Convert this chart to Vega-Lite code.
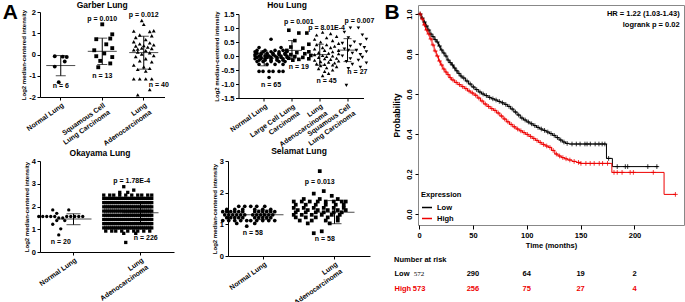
{
"$schema": "https://vega.github.io/schema/vega-lite/v6.json",
"background": "white",
"padding": {"left": 2, "top": 1, "right": 0, "bottom": 0},
"spacing": 9,
"resolve": {"scale": {"color": "independent", "shape": "independent"}, "legend": {"color": "independent", "shape": "independent"}},
"config": {
 "font": "Liberation Sans",
 "view": {"stroke": null},
 "axis": {"grid": false, "labelFont": "Liberation Sans", "labelFontSize": 7.5, "labelFontWeight": "bold", "labelColor": "#000", "titleFont": "Liberation Sans", "titleFontSize": 6, "titleFontWeight": "bold", "titleColor": "#000", "domainColor": "#000", "tickColor": "#000", "tickSize": 3, "labelPadding": 1.5, "titlePadding": 2},
 "title": {"font": "Liberation Sans", "fontSize": 8.5, "fontWeight": "bold", "color": "#000", "offset": 2},
 "text": {"font": "Liberation Sans", "fontSize": 7, "fontWeight": "bold", "color": "#000"}
},
"datasets": {
 "g": [
  {"c":"N","v":-0.08,"k":-3},{"c":"N","v":-0.1,"k":1},{"c":"N","v":-0.12,"k":3},{"c":"N","v":-0.33,"k":2},{"c":"N","v":-0.57,"k":-3},{"c":"N","v":-1.3,"k":-1},
  {"c":"S","v":1.42,"k":0},{"c":"S","v":0.95,"k":5},{"c":"S","v":0.75,"k":4},{"c":"S","v":0.72,"k":-3},{"c":"S","v":0.48,"k":2},{"c":"S","v":0.3,"k":5},{"c":"S","v":0.2,"k":-4},{"c":"S","v":0.05,"k":1},{"c":"S","v":-0.08,"k":-3},{"c":"S","v":-0.12,"k":5},{"c":"S","v":-0.3,"k":-1},{"c":"S","v":-0.42,"k":4},{"c":"S","v":-0.6,"k":-2},
  {"c":"A","v":1.6,"k":-1},{"c":"A","v":1.42,"k":0},{"c":"A","v":1.12,"k":5},{"c":"A","v":1.1,"k":-5},{"c":"A","v":1.08,"k":3},{"c":"A","v":0.92,"k":-2},{"c":"A","v":0.88,"k":4},{"c":"A","v":0.8,"k":-4},{"c":"A","v":0.7,"k":1},{"c":"A","v":0.6,"k":-5},
  {"c":"A","v":0.55,"k":3},{"c":"A","v":0.5,"k":-2},{"c":"A","v":0.45,"k":5},{"c":"A","v":0.42,"k":0},{"c":"A","v":0.4,"k":-4},{"c":"A","v":0.35,"k":2},{"c":"A","v":0.3,"k":-1},{"c":"A","v":0.28,"k":4},{"c":"A","v":0.25,"k":-3},{"c":"A","v":0.22,"k":-5},
  {"c":"A","v":0.18,"k":1},{"c":"A","v":0.12,"k":-3},{"c":"A","v":0.08,"k":3},{"c":"A","v":0.02,"k":-1},{"c":"A","v":-0.05,"k":5},{"c":"A","v":-0.1,"k":-4},{"c":"A","v":-0.2,"k":1},{"c":"A","v":-0.3,"k":-2},{"c":"A","v":-0.35,"k":4},{"c":"A","v":-0.5,"k":-5},
  {"c":"A","v":-0.58,"k":0},{"c":"A","v":-0.65,"k":3},{"c":"A","v":-0.7,"k":-3},{"c":"A","v":-0.78,"k":1},{"c":"A","v":-1.15,"k":-5},{"c":"A","v":-1.15,"k":-2},{"c":"A","v":-1.15,"k":1},{"c":"A","v":-1.15,"k":4},{"c":"A","v":-1.65,"k":3},{"c":"A","v":-1.9,"k":-3}
 ],
 "gs": [{"c":"N","mean":-0.52,"lo":-1.0,"hi":-0.05},{"c":"S","mean":0.15,"lo":-0.47,"hi":0.77},{"c":"A","mean":0.09,"lo":-0.69,"hi":0.86}],
 "gt": [{"c":"S","y":1.68,"k":0,"t":"p = 0.010"},{"c":"A","y":1.85,"k":0,"t":"p = 0.012"},{"c":"N","y":-1.5,"k":0,"t":"n = 6"},{"c":"S","y":-1.02,"k":0,"t":"n = 13"},{"c":"A","y":-1.45,"k":7.5,"t":"n = 40"}],
 "h": [
  {"c":"N","v":0.6,"k":0},{"c":"N","v":0.3,"k":-6},{"c":"N","v":0.3,"k":5},
  {"c":"N","v":0.2,"k":-7},{"c":"N","v":0.2,"k":-3},{"c":"N","v":0.2,"k":2},{"c":"N","v":0.2,"k":6},
  {"c":"N","v":0.15,"k":-8},{"c":"N","v":0.15,"k":-4},{"c":"N","v":0.15,"k":0},{"c":"N","v":0.15,"k":4},{"c":"N","v":0.15,"k":8},
  {"c":"N","v":0.1,"k":-7},{"c":"N","v":0.1,"k":-5},{"c":"N","v":0.1,"k":-2},{"c":"N","v":0.1,"k":1},{"c":"N","v":0.1,"k":4},{"c":"N","v":0.1,"k":7},
  {"c":"N","v":0.05,"k":-8},{"c":"N","v":0.05,"k":-5},{"c":"N","v":0.05,"k":-2},{"c":"N","v":0.05,"k":1},{"c":"N","v":0.05,"k":4},{"c":"N","v":0.05,"k":7},
  {"c":"N","v":0.0,"k":-8},{"c":"N","v":0.0,"k":-6},{"c":"N","v":0.0,"k":-3},{"c":"N","v":0.0,"k":-1},{"c":"N","v":0.0,"k":2},{"c":"N","v":0.0,"k":5},{"c":"N","v":0.0,"k":8},
  {"c":"N","v":-0.05,"k":-7},{"c":"N","v":-0.05,"k":-5},{"c":"N","v":-0.05,"k":-2},{"c":"N","v":-0.05,"k":0},{"c":"N","v":-0.05,"k":3},{"c":"N","v":-0.05,"k":5},{"c":"N","v":-0.05,"k":8},
  {"c":"N","v":-0.1,"k":-8},{"c":"N","v":-0.1,"k":-5},{"c":"N","v":-0.1,"k":-3},{"c":"N","v":-0.1,"k":0},{"c":"N","v":-0.1,"k":3},{"c":"N","v":-0.1,"k":6},
  {"c":"N","v":-0.15,"k":-6},{"c":"N","v":-0.15,"k":-3},{"c":"N","v":-0.15,"k":0},{"c":"N","v":-0.15,"k":3},{"c":"N","v":-0.15,"k":6},
  {"c":"N","v":-0.2,"k":-7},{"c":"N","v":-0.2,"k":-4},{"c":"N","v":-0.2,"k":0},{"c":"N","v":-0.2,"k":4},{"c":"N","v":-0.2,"k":7},
  {"c":"N","v":-0.3,"k":-6},{"c":"N","v":-0.3,"k":-2},{"c":"N","v":-0.3,"k":2},{"c":"N","v":-0.3,"k":6},
  {"c":"N","v":-0.55,"k":-6},{"c":"N","v":-0.55,"k":-4},{"c":"N","v":-0.55,"k":-1},{"c":"N","v":-0.55,"k":1},{"c":"N","v":-0.55,"k":4},{"c":"N","v":-0.55,"k":6},
  {"c":"N","v":-0.77,"k":-1},
  {"c":"L","v":0.92,"k":-5},{"c":"L","v":0.82,"k":0},{"c":"L","v":0.82,"k":4},{"c":"L","v":0.55,"k":-2},{"c":"L","v":0.42,"k":5},{"c":"L","v":0.32,"k":-4},{"c":"L","v":0.28,"k":2},{"c":"L","v":0.2,"k":-6},{"c":"L","v":0.15,"k":5},{"c":"L","v":0.12,"k":-1},
  {"c":"L","v":0.08,"k":3},{"c":"L","v":0.05,"k":-4},{"c":"L","v":0.02,"k":6},{"c":"L","v":-0.02,"k":-2},{"c":"L","v":-0.05,"k":2},{"c":"L","v":-0.08,"k":-5},{"c":"L","v":-0.1,"k":5},{"c":"L","v":-0.12,"k":0},{"c":"L","v":-0.15,"k":-3},
  {"c":"A","v":0.85,"k":-2},{"c":"A","v":0.8,"k":2},{"c":"A","v":0.75,"k":-5},{"c":"A","v":0.7,"k":5},{"c":"A","v":0.65,"k":0},{"c":"A","v":0.6,"k":-6},{"c":"A","v":0.55,"k":3},{"c":"A","v":0.5,"k":-3},{"c":"A","v":0.45,"k":6},{"c":"A","v":0.4,"k":0},
  {"c":"A","v":0.4,"k":-5},{"c":"A","v":0.35,"k":4},{"c":"A","v":0.3,"k":-2},{"c":"A","v":0.3,"k":2},{"c":"A","v":0.25,"k":-6},{"c":"A","v":0.2,"k":6},{"c":"A","v":0.2,"k":-1},{"c":"A","v":0.15,"k":3},{"c":"A","v":0.12,"k":-4},{"c":"A","v":0.1,"k":1},
  {"c":"A","v":0.08,"k":6},{"c":"A","v":0.05,"k":-6},{"c":"A","v":0.02,"k":-2},{"c":"A","v":0.0,"k":3},{"c":"A","v":-0.02,"k":0},{"c":"A","v":-0.05,"k":-4},{"c":"A","v":-0.08,"k":5},{"c":"A","v":-0.1,"k":-1},{"c":"A","v":-0.12,"k":2},{"c":"A","v":-0.15,"k":-6},
  {"c":"A","v":-0.18,"k":6},{"c":"A","v":-0.2,"k":-3},{"c":"A","v":-0.22,"k":1},{"c":"A","v":-0.25,"k":4},{"c":"A","v":-0.28,"k":-5},{"c":"A","v":-0.3,"k":-1},{"c":"A","v":-0.32,"k":3},{"c":"A","v":-0.35,"k":-3},{"c":"A","v":-0.38,"k":5},{"c":"A","v":-0.42,"k":0},
  {"c":"A","v":-0.45,"k":-4},{"c":"A","v":-0.5,"k":3},{"c":"A","v":-0.55,"k":-1},{"c":"A","v":-0.62,"k":1},{"c":"A","v":-0.7,"k":-2},
  {"c":"S","v":1.0,"k":-2},{"c":"S","v":1.0,"k":2},{"c":"S","v":0.85,"k":-5},{"c":"S","v":0.75,"k":4},{"c":"S","v":0.65,"k":-3},{"c":"S","v":0.6,"k":6},{"c":"S","v":0.5,"k":0},{"c":"S","v":0.45,"k":-6},{"c":"S","v":0.4,"k":3},{"c":"S","v":0.35,"k":-2},
  {"c":"S","v":0.3,"k":5},{"c":"S","v":0.25,"k":-5},{"c":"S","v":0.2,"k":1},{"c":"S","v":0.2,"k":-3},{"c":"S","v":0.15,"k":6},{"c":"S","v":0.1,"k":-1},{"c":"S","v":0.05,"k":3},{"c":"S","v":0.0,"k":-6},{"c":"S","v":-0.05,"k":4},{"c":"S","v":-0.1,"k":-2},
  {"c":"S","v":-0.15,"k":2},{"c":"S","v":-0.2,"k":-4},{"c":"S","v":-0.25,"k":6},{"c":"S","v":-0.3,"k":-1},{"c":"S","v":-0.4,"k":3},{"c":"S","v":-0.45,"k":-3},{"c":"S","v":-1.05,"k":-4}
 ],
 "hs": [{"c":"N","mean":-0.08,"lo":-0.35,"hi":0.18},{"c":"L","mean":0.2,"lo":-0.1,"hi":0.55},{"c":"A","mean":0.05,"lo":-0.33,"hi":0.42},{"c":"S","mean":0.21,"lo":-0.2,"hi":0.62}],
 "ht": [{"c":"L","y":1.2,"k":0,"t":"p = 0.001"},{"c":"A","y":1.0,"k":0,"t":"p = 8.01E-4"},{"c":"S","y":1.25,"k":2.5,"t":"p = 0.007"},{"c":"N","y":-1.03,"k":0,"t":"n = 65"},{"c":"L","y":-0.4,"k":0,"t":"n = 19"},{"c":"A","y":-0.9,"k":0,"t":"n = 45"},{"c":"S","y":-0.56,"k":1.5,"t":"n = 27"}],
 "o": [
  {"c":"N","v":1.85,"k":-4},{"c":"N","v":1.85,"k":4},{"c":"N","v":1.7,"k":-2},
  {"c":"N","v":1.56,"k":-11},{"c":"N","v":1.56,"k":-9},{"c":"N","v":1.56,"k":-7},{"c":"N","v":1.56,"k":-5},{"c":"N","v":1.56,"k":-3},{"c":"N","v":1.56,"k":3},{"c":"N","v":1.56,"k":5},{"c":"N","v":1.56,"k":7},{"c":"N","v":1.56,"k":9},{"c":"N","v":1.56,"k":11},
  {"c":"N","v":1.5,"k":-1},{"c":"N","v":1.5,"k":1},{"c":"N","v":1.38,"k":-2},{"c":"N","v":1.38,"k":2},{"c":"N","v":1.22,"k":-4},{"c":"N","v":1.02,"k":0},{"c":"N","v":0.75,"k":-1},
  {"c":"A","v":2.87,"k":-2},{"c":"A","v":2.72,"k":3},{"c":"A","v":2.62,"k":-4},{"c":"A","v":2.62,"k":0},
  {"c":"A","v":2.5,"k":-12},{"c":"A","v":2.5,"k":-9},{"c":"A","v":2.5,"k":-7},{"c":"A","v":2.5,"k":-4},{"c":"A","v":2.5,"k":-1},{"c":"A","v":2.5,"k":2},{"c":"A","v":2.5,"k":5},{"c":"A","v":2.5,"k":7},{"c":"A","v":2.5,"k":10},{"c":"A","v":2.5,"k":12},
  {"c":"A","v":2.355,"k":-12},{"c":"A","v":2.355,"k":-11},{"c":"A","v":2.355,"k":-10},{"c":"A","v":2.355,"k":-9},{"c":"A","v":2.355,"k":-8},{"c":"A","v":2.355,"k":-7},{"c":"A","v":2.355,"k":-6},{"c":"A","v":2.355,"k":-5},{"c":"A","v":2.355,"k":-4},{"c":"A","v":2.355,"k":-3},{"c":"A","v":2.355,"k":-2},{"c":"A","v":2.355,"k":-1},{"c":"A","v":2.355,"k":0},{"c":"A","v":2.355,"k":1},{"c":"A","v":2.355,"k":2},{"c":"A","v":2.355,"k":3},{"c":"A","v":2.355,"k":4},{"c":"A","v":2.355,"k":5},{"c":"A","v":2.355,"k":6},{"c":"A","v":2.355,"k":7},{"c":"A","v":2.355,"k":8},{"c":"A","v":2.355,"k":9},{"c":"A","v":2.355,"k":10},{"c":"A","v":2.355,"k":11},{"c":"A","v":2.355,"k":12},
  {"c":"A","v":2.17,"k":-12},{"c":"A","v":2.17,"k":-11},{"c":"A","v":2.17,"k":-10},{"c":"A","v":2.17,"k":-9},{"c":"A","v":2.17,"k":-8},{"c":"A","v":2.17,"k":-7},{"c":"A","v":2.17,"k":-6},{"c":"A","v":2.17,"k":-5},{"c":"A","v":2.17,"k":-4},{"c":"A","v":2.17,"k":-3},{"c":"A","v":2.17,"k":-2},{"c":"A","v":2.17,"k":-1},{"c":"A","v":2.17,"k":0},{"c":"A","v":2.17,"k":1},{"c":"A","v":2.17,"k":2},{"c":"A","v":2.17,"k":3},{"c":"A","v":2.17,"k":4},{"c":"A","v":2.17,"k":5},{"c":"A","v":2.17,"k":6},{"c":"A","v":2.17,"k":7},{"c":"A","v":2.17,"k":8},{"c":"A","v":2.17,"k":9},{"c":"A","v":2.17,"k":10},{"c":"A","v":2.17,"k":11},{"c":"A","v":2.17,"k":12},
  {"c":"A","v":1.985,"k":-12},{"c":"A","v":1.985,"k":-11},{"c":"A","v":1.985,"k":-10},{"c":"A","v":1.985,"k":-9},{"c":"A","v":1.985,"k":-8},{"c":"A","v":1.985,"k":-7},{"c":"A","v":1.985,"k":-6},{"c":"A","v":1.985,"k":-5},{"c":"A","v":1.985,"k":-4},{"c":"A","v":1.985,"k":-3},{"c":"A","v":1.985,"k":-2},{"c":"A","v":1.985,"k":-1},{"c":"A","v":1.985,"k":0},{"c":"A","v":1.985,"k":1},{"c":"A","v":1.985,"k":2},{"c":"A","v":1.985,"k":3},{"c":"A","v":1.985,"k":4},{"c":"A","v":1.985,"k":5},{"c":"A","v":1.985,"k":6},{"c":"A","v":1.985,"k":7},{"c":"A","v":1.985,"k":8},{"c":"A","v":1.985,"k":9},{"c":"A","v":1.985,"k":10},{"c":"A","v":1.985,"k":11},{"c":"A","v":1.985,"k":12},
  {"c":"A","v":1.8,"k":-12},{"c":"A","v":1.8,"k":-11},{"c":"A","v":1.8,"k":-10},{"c":"A","v":1.8,"k":-9},{"c":"A","v":1.8,"k":-8},{"c":"A","v":1.8,"k":-7},{"c":"A","v":1.8,"k":-6},{"c":"A","v":1.8,"k":-5},{"c":"A","v":1.8,"k":-4},{"c":"A","v":1.8,"k":-3},{"c":"A","v":1.8,"k":-2},{"c":"A","v":1.8,"k":-1},{"c":"A","v":1.8,"k":0},{"c":"A","v":1.8,"k":1},{"c":"A","v":1.8,"k":2},{"c":"A","v":1.8,"k":3},{"c":"A","v":1.8,"k":4},{"c":"A","v":1.8,"k":5},{"c":"A","v":1.8,"k":6},{"c":"A","v":1.8,"k":7},{"c":"A","v":1.8,"k":8},{"c":"A","v":1.8,"k":9},{"c":"A","v":1.8,"k":10},{"c":"A","v":1.8,"k":11},{"c":"A","v":1.8,"k":12},
  {"c":"A","v":1.615,"k":-12},{"c":"A","v":1.615,"k":-11},{"c":"A","v":1.615,"k":-10},{"c":"A","v":1.615,"k":-9},{"c":"A","v":1.615,"k":-8},{"c":"A","v":1.615,"k":-7},{"c":"A","v":1.615,"k":-6},{"c":"A","v":1.615,"k":-5},{"c":"A","v":1.615,"k":-4},{"c":"A","v":1.615,"k":-3},{"c":"A","v":1.615,"k":-2},{"c":"A","v":1.615,"k":-1},{"c":"A","v":1.615,"k":0},{"c":"A","v":1.615,"k":1},{"c":"A","v":1.615,"k":2},{"c":"A","v":1.615,"k":3},{"c":"A","v":1.615,"k":4},{"c":"A","v":1.615,"k":5},{"c":"A","v":1.615,"k":6},{"c":"A","v":1.615,"k":7},{"c":"A","v":1.615,"k":8},{"c":"A","v":1.615,"k":9},{"c":"A","v":1.615,"k":10},{"c":"A","v":1.615,"k":11},{"c":"A","v":1.615,"k":12},
  {"c":"A","v":1.43,"k":-12},{"c":"A","v":1.43,"k":-11},{"c":"A","v":1.43,"k":-10},{"c":"A","v":1.43,"k":-9},{"c":"A","v":1.43,"k":-8},{"c":"A","v":1.43,"k":-7},{"c":"A","v":1.43,"k":-6},{"c":"A","v":1.43,"k":-5},{"c":"A","v":1.43,"k":-4},{"c":"A","v":1.43,"k":-3},{"c":"A","v":1.43,"k":-2},{"c":"A","v":1.43,"k":-1},{"c":"A","v":1.43,"k":0},{"c":"A","v":1.43,"k":1},{"c":"A","v":1.43,"k":2},{"c":"A","v":1.43,"k":3},{"c":"A","v":1.43,"k":4},{"c":"A","v":1.43,"k":5},{"c":"A","v":1.43,"k":6},{"c":"A","v":1.43,"k":7},{"c":"A","v":1.43,"k":8},{"c":"A","v":1.43,"k":9},{"c":"A","v":1.43,"k":10},{"c":"A","v":1.43,"k":11},{"c":"A","v":1.43,"k":12},
  {"c":"A","v":1.245,"k":-12},{"c":"A","v":1.245,"k":-11},{"c":"A","v":1.245,"k":-10},{"c":"A","v":1.245,"k":-9},{"c":"A","v":1.245,"k":-8},{"c":"A","v":1.245,"k":-7},{"c":"A","v":1.245,"k":-6},{"c":"A","v":1.245,"k":-5},{"c":"A","v":1.245,"k":-4},{"c":"A","v":1.245,"k":-3},{"c":"A","v":1.245,"k":-2},{"c":"A","v":1.245,"k":-1},{"c":"A","v":1.245,"k":0},{"c":"A","v":1.245,"k":1},{"c":"A","v":1.245,"k":2},{"c":"A","v":1.245,"k":3},{"c":"A","v":1.245,"k":4},{"c":"A","v":1.245,"k":5},{"c":"A","v":1.245,"k":6},{"c":"A","v":1.245,"k":7},{"c":"A","v":1.245,"k":8},{"c":"A","v":1.245,"k":9},{"c":"A","v":1.245,"k":10},{"c":"A","v":1.245,"k":11},{"c":"A","v":1.245,"k":12},
  {"c":"A","v":1.06,"k":-12},{"c":"A","v":1.06,"k":-11},{"c":"A","v":1.06,"k":-10},{"c":"A","v":1.06,"k":-9},{"c":"A","v":1.06,"k":-8},{"c":"A","v":1.06,"k":-7},{"c":"A","v":1.06,"k":-6},{"c":"A","v":1.06,"k":-5},{"c":"A","v":1.06,"k":-4},{"c":"A","v":1.06,"k":-3},{"c":"A","v":1.06,"k":-2},{"c":"A","v":1.06,"k":-1},{"c":"A","v":1.06,"k":0},{"c":"A","v":1.06,"k":1},{"c":"A","v":1.06,"k":2},{"c":"A","v":1.06,"k":3},{"c":"A","v":1.06,"k":4},{"c":"A","v":1.06,"k":5},{"c":"A","v":1.06,"k":6},{"c":"A","v":1.06,"k":7},{"c":"A","v":1.06,"k":8},{"c":"A","v":1.06,"k":9},{"c":"A","v":1.06,"k":10},{"c":"A","v":1.06,"k":11},{"c":"A","v":1.06,"k":12},
  {"c":"A","v":0.92,"k":-11},{"c":"A","v":0.92,"k":-8},{"c":"A","v":0.92,"k":-6},{"c":"A","v":0.92,"k":-3},{"c":"A","v":0.92,"k":0},{"c":"A","v":0.92,"k":3},{"c":"A","v":0.92,"k":5},{"c":"A","v":0.92,"k":8},{"c":"A","v":0.92,"k":11},
  {"c":"A","v":0.82,"k":-2},{"c":"A","v":0.82,"k":4},{"c":"A","v":0.42,"k":-1}
 ],
 "os": [{"c":"N","mean":1.45,"lo":1.2,"hi":1.68},{"c":"A","mean":1.72,"lo":1.3,"hi":2.15}],
 "ot": [{"c":"A","y":3.12,"k":2,"t":"p = 1.78E-4"},{"c":"N","y":0.44,"k":0,"t":"n = 20"},{"c":"A","y":0.63,"k":9,"t":"n = 226"}],
 "s": [
  {"c":"N","v":1.57,"k":-5},{"c":"N","v":1.57,"k":-2},{"c":"N","v":1.57,"k":1},{"c":"N","v":1.57,"k":4},{"c":"N","v":1.57,"k":8},
  {"c":"N","v":1.47,"k":-11},{"c":"N","v":1.47,"k":-7},{"c":"N","v":1.47,"k":-3},{"c":"N","v":1.47,"k":3},{"c":"N","v":1.47,"k":7},{"c":"N","v":1.47,"k":11},
  {"c":"N","v":1.4,"k":-13},{"c":"N","v":1.4,"k":-11},{"c":"N","v":1.4,"k":-9},{"c":"N","v":1.4,"k":-7},{"c":"N","v":1.4,"k":-5},{"c":"N","v":1.4,"k":-3},{"c":"N","v":1.4,"k":3},{"c":"N","v":1.4,"k":5},{"c":"N","v":1.4,"k":7},{"c":"N","v":1.4,"k":9},{"c":"N","v":1.4,"k":11},{"c":"N","v":1.4,"k":13},
  {"c":"N","v":1.3,"k":-12},{"c":"N","v":1.3,"k":-10},{"c":"N","v":1.3,"k":-8},{"c":"N","v":1.3,"k":-6},{"c":"N","v":1.3,"k":-4},{"c":"N","v":1.3,"k":-2},{"c":"N","v":1.3,"k":2},{"c":"N","v":1.3,"k":4},{"c":"N","v":1.3,"k":6},{"c":"N","v":1.3,"k":8},{"c":"N","v":1.3,"k":10},{"c":"N","v":1.3,"k":12},
  {"c":"N","v":1.21,"k":-11},{"c":"N","v":1.21,"k":-9},{"c":"N","v":1.21,"k":-7},{"c":"N","v":1.21,"k":-5},{"c":"N","v":1.21,"k":-3},{"c":"N","v":1.21,"k":3},{"c":"N","v":1.21,"k":5},{"c":"N","v":1.21,"k":7},{"c":"N","v":1.21,"k":9},{"c":"N","v":1.21,"k":11},
  {"c":"N","v":1.12,"k":-13},{"c":"N","v":1.12,"k":-10},{"c":"N","v":1.12,"k":-7},{"c":"N","v":1.12,"k":-4},{"c":"N","v":1.12,"k":-1},{"c":"N","v":1.12,"k":1},{"c":"N","v":1.12,"k":4},{"c":"N","v":1.12,"k":7},{"c":"N","v":1.12,"k":10},{"c":"N","v":1.12,"k":13},
  {"c":"N","v":1.03,"k":-6},{"c":"N","v":1.03,"k":3},{"c":"N","v":0.94,"k":-1},
  {"c":"A","v":2.68,"k":0},{"c":"A","v":2.05,"k":2},{"c":"A","v":1.97,"k":-3},{"c":"A","v":1.9,"k":6},
  {"c":"A","v":1.8,"k":-8},{"c":"A","v":1.8,"k":0},{"c":"A","v":1.8,"k":9},
  {"c":"A","v":1.72,"k":-13},{"c":"A","v":1.72,"k":-9},{"c":"A","v":1.72,"k":-5},{"c":"A","v":1.72,"k":-1},{"c":"A","v":1.72,"k":3},{"c":"A","v":1.72,"k":7},{"c":"A","v":1.72,"k":11},{"c":"A","v":1.72,"k":13},
  {"c":"A","v":1.62,"k":-12},{"c":"A","v":1.62,"k":-7},{"c":"A","v":1.62,"k":-2},{"c":"A","v":1.62,"k":3},{"c":"A","v":1.62,"k":8},{"c":"A","v":1.62,"k":12},
  {"c":"A","v":1.52,"k":-13},{"c":"A","v":1.52,"k":-8},{"c":"A","v":1.52,"k":-3},{"c":"A","v":1.52,"k":2},{"c":"A","v":1.52,"k":7},{"c":"A","v":1.52,"k":12},
  {"c":"A","v":1.45,"k":-11},{"c":"A","v":1.45,"k":-6},{"c":"A","v":1.45,"k":-1},{"c":"A","v":1.45,"k":4},{"c":"A","v":1.45,"k":9},{"c":"A","v":1.45,"k":13},
  {"c":"A","v":1.38,"k":-12},{"c":"A","v":1.38,"k":-7},{"c":"A","v":1.38,"k":-2},{"c":"A","v":1.38,"k":2},{"c":"A","v":1.38,"k":7},{"c":"A","v":1.38,"k":11},
  {"c":"A","v":1.3,"k":-13},{"c":"A","v":1.3,"k":-9},{"c":"A","v":1.3,"k":-4},{"c":"A","v":1.3,"k":1},{"c":"A","v":1.3,"k":6},{"c":"A","v":1.3,"k":10},
  {"c":"A","v":1.22,"k":-12},{"c":"A","v":1.22,"k":-7},{"c":"A","v":1.22,"k":-2},{"c":"A","v":1.22,"k":4},{"c":"A","v":1.22,"k":9},
  {"c":"A","v":1.12,"k":-10},{"c":"A","v":1.12,"k":-4},{"c":"A","v":1.12,"k":3},{"c":"A","v":1.12,"k":9},
  {"c":"A","v":1.03,"k":-6},{"c":"A","v":1.03,"k":5},{"c":"A","v":0.78,"k":1},{"c":"A","v":0.72,"k":-3}
 ],
 "ss": [{"c":"N","mean":1.3,"lo":1.15,"hi":1.45},{"c":"A","mean":1.38,"lo":1.02,"hi":1.75}],
 "st": [{"c":"A","y":2.34,"k":0,"t":"p = 0.013"},{"c":"N","y":0.72,"k":2,"t":"n = 58"},{"c":"A","y":0.53,"k":2.5,"t":"n = 58"}],
 "kml": [
  {"g":"Low","t":0,"s":1.0},{"g":"Low","t":2,"s":0.98},{"g":"Low","t":4,"s":0.96},{"g":"Low","t":6,"s":0.94},{"g":"Low","t":8,"s":0.92},{"g":"Low","t":10,"s":0.9},{"g":"Low","t":12,"s":0.887},{"g":"Low","t":14,"s":0.872},{"g":"Low","t":16,"s":0.86},{"g":"Low","t":18,"s":0.84},
  {"g":"Low","t":20,"s":0.82},{"g":"Low","t":22,"s":0.805},{"g":"Low","t":24,"s":0.79},{"g":"Low","t":26,"s":0.77},{"g":"Low","t":28,"s":0.757},{"g":"Low","t":30,"s":0.745},{"g":"Low","t":32,"s":0.73},{"g":"Low","t":34,"s":0.716},{"g":"Low","t":36,"s":0.703},{"g":"Low","t":38,"s":0.69},
  {"g":"Low","t":40,"s":0.68},{"g":"Low","t":43,"s":0.665},{"g":"Low","t":46,"s":0.65},{"g":"Low","t":49,"s":0.635},{"g":"Low","t":52,"s":0.622},{"g":"Low","t":55,"s":0.61},{"g":"Low","t":58,"s":0.6},{"g":"Low","t":61,"s":0.592},{"g":"Low","t":64,"s":0.583},{"g":"Low","t":67,"s":0.576},
  {"g":"Low","t":70,"s":0.57},{"g":"Low","t":73,"s":0.563},{"g":"Low","t":76,"s":0.556},{"g":"Low","t":79,"s":0.548},{"g":"Low","t":82,"s":0.538},{"g":"Low","t":85,"s":0.525},{"g":"Low","t":88,"s":0.51},{"g":"Low","t":91,"s":0.495},{"g":"Low","t":94,"s":0.48},{"g":"Low","t":97,"s":0.47},
  {"g":"Low","t":100,"s":0.46},{"g":"Low","t":103,"s":0.451},{"g":"Low","t":106,"s":0.442},{"g":"Low","t":109,"s":0.433},{"g":"Low","t":112,"s":0.425},{"g":"Low","t":115,"s":0.418},{"g":"Low","t":118,"s":0.41},{"g":"Low","t":121,"s":0.402},{"g":"Low","t":124,"s":0.393},{"g":"Low","t":127,"s":0.382},
  {"g":"Low","t":130,"s":0.37},{"g":"Low","t":133,"s":0.36},{"g":"Low","t":136,"s":0.353},{"g":"Low","t":139,"s":0.35},{"g":"Low","t":174,"s":0.278},{"g":"Low","t":179.5,"s":0.237},{"g":"Low","t":222,"s":0.237},
  {"g":"High","t":0,"s":1.0},{"g":"High","t":2,"s":0.975},{"g":"High","t":4,"s":0.945},{"g":"High","t":6,"s":0.92},{"g":"High","t":8,"s":0.9},{"g":"High","t":10,"s":0.875},{"g":"High","t":12,"s":0.845},{"g":"High","t":14,"s":0.815},{"g":"High","t":16,"s":0.79},{"g":"High","t":18,"s":0.765},
  {"g":"High","t":20,"s":0.745},{"g":"High","t":22,"s":0.725},{"g":"High","t":24,"s":0.71},{"g":"High","t":26,"s":0.697},{"g":"High","t":28,"s":0.682},{"g":"High","t":30,"s":0.67},{"g":"High","t":33,"s":0.658},{"g":"High","t":36,"s":0.647},{"g":"High","t":39,"s":0.637},{"g":"High","t":42,"s":0.627},
  {"g":"High","t":45,"s":0.615},{"g":"High","t":48,"s":0.605},{"g":"High","t":51,"s":0.594},{"g":"High","t":54,"s":0.58},{"g":"High","t":57,"s":0.565},{"g":"High","t":60,"s":0.55},{"g":"High","t":63,"s":0.538},{"g":"High","t":66,"s":0.527},{"g":"High","t":69,"s":0.518},{"g":"High","t":72,"s":0.505},
  {"g":"High","t":75,"s":0.49},{"g":"High","t":78,"s":0.475},{"g":"High","t":81,"s":0.461},{"g":"High","t":84,"s":0.448},{"g":"High","t":87,"s":0.436},{"g":"High","t":90,"s":0.425},{"g":"High","t":93,"s":0.416},{"g":"High","t":96,"s":0.407},{"g":"High","t":99,"s":0.398},{"g":"High","t":102,"s":0.388},
  {"g":"High","t":105,"s":0.378},{"g":"High","t":108,"s":0.368},{"g":"High","t":111,"s":0.358},{"g":"High","t":114,"s":0.348},{"g":"High","t":117,"s":0.34},{"g":"High","t":120,"s":0.333},{"g":"High","t":123,"s":0.318},{"g":"High","t":126,"s":0.3},{"g":"High","t":129,"s":0.29},{"g":"High","t":132,"s":0.282},
  {"g":"High","t":135,"s":0.276},{"g":"High","t":138,"s":0.27},{"g":"High","t":142,"s":0.263},{"g":"High","t":146,"s":0.258},{"g":"High","t":150,"s":0.253},{"g":"High","t":179,"s":0.208},{"g":"High","t":227.5,"s":0.098},{"g":"High","t":238,"s":0.098}
 ],
 "kmc": [
  {"g":"Low","t":1,"s":1.0},{"g":"Low","t":3,"s":0.98},{"g":"Low","t":5,"s":0.96},{"g":"Low","t":7,"s":0.94},{"g":"Low","t":9,"s":0.92},{"g":"Low","t":11,"s":0.9},{"g":"Low","t":13,"s":0.887},{"g":"Low","t":15,"s":0.872},{"g":"Low","t":17,"s":0.86},{"g":"Low","t":19,"s":0.84},
  {"g":"Low","t":21,"s":0.82},{"g":"Low","t":23,"s":0.805},{"g":"Low","t":25,"s":0.79},{"g":"Low","t":27,"s":0.77},{"g":"Low","t":29,"s":0.757},{"g":"Low","t":31,"s":0.745},{"g":"Low","t":33,"s":0.73},{"g":"Low","t":35,"s":0.716},{"g":"Low","t":37,"s":0.703},{"g":"Low","t":39,"s":0.69},
  {"g":"Low","t":41.5,"s":0.68},{"g":"Low","t":44.5,"s":0.665},{"g":"Low","t":47.5,"s":0.65},{"g":"Low","t":50.5,"s":0.635},{"g":"Low","t":53.5,"s":0.622},{"g":"Low","t":56.5,"s":0.61},{"g":"Low","t":59.5,"s":0.6},{"g":"Low","t":62.5,"s":0.592},{"g":"Low","t":65.5,"s":0.583},{"g":"Low","t":68.5,"s":0.576},
  {"g":"Low","t":71.5,"s":0.57},{"g":"Low","t":74.5,"s":0.563},{"g":"Low","t":77.5,"s":0.556},{"g":"Low","t":80.5,"s":0.548},{"g":"Low","t":83.5,"s":0.538},{"g":"Low","t":86.5,"s":0.525},{"g":"Low","t":89.5,"s":0.51},{"g":"Low","t":92.5,"s":0.495},{"g":"Low","t":95.5,"s":0.48},{"g":"Low","t":98.5,"s":0.47},
  {"g":"Low","t":101.5,"s":0.46},{"g":"Low","t":104.5,"s":0.451},{"g":"Low","t":107.5,"s":0.442},{"g":"Low","t":110.5,"s":0.433},{"g":"Low","t":113.5,"s":0.425},{"g":"Low","t":116.5,"s":0.418},{"g":"Low","t":119.5,"s":0.41},{"g":"Low","t":122.5,"s":0.402},{"g":"Low","t":125.5,"s":0.393},{"g":"Low","t":128.5,"s":0.382},
  {"g":"Low","t":131.5,"s":0.37},{"g":"Low","t":134.5,"s":0.36},{"g":"Low","t":137.5,"s":0.353},
  {"g":"Low","t":142,"s":0.35},{"g":"Low","t":146,"s":0.35},{"g":"Low","t":149.5,"s":0.35},{"g":"Low","t":154,"s":0.35},{"g":"Low","t":156,"s":0.35},{"g":"Low","t":159,"s":0.35},{"g":"Low","t":163.5,"s":0.35},{"g":"Low","t":167,"s":0.35},{"g":"Low","t":170,"s":0.35},{"g":"Low","t":172.5,"s":0.35},
  {"g":"Low","t":176,"s":0.278},{"g":"Low","t":184,"s":0.237},{"g":"Low","t":191.5,"s":0.237},{"g":"Low","t":193.7,"s":0.237},{"g":"Low","t":212.4,"s":0.237},{"g":"Low","t":220.8,"s":0.237},
  {"g":"High","t":1,"s":1.0},{"g":"High","t":3,"s":0.975},{"g":"High","t":5,"s":0.945},{"g":"High","t":7,"s":0.92},{"g":"High","t":9,"s":0.9},{"g":"High","t":11,"s":0.875},{"g":"High","t":13,"s":0.845},{"g":"High","t":15,"s":0.815},{"g":"High","t":17,"s":0.79},{"g":"High","t":19,"s":0.765},
  {"g":"High","t":21,"s":0.745},{"g":"High","t":23,"s":0.725},{"g":"High","t":25,"s":0.71},{"g":"High","t":27,"s":0.697},{"g":"High","t":29,"s":0.682},{"g":"High","t":31.5,"s":0.67},{"g":"High","t":34.5,"s":0.658},{"g":"High","t":37.5,"s":0.647},{"g":"High","t":40.5,"s":0.637},{"g":"High","t":43.5,"s":0.627},
  {"g":"High","t":46.5,"s":0.615},{"g":"High","t":49.5,"s":0.605},{"g":"High","t":52.5,"s":0.594},{"g":"High","t":55.5,"s":0.58},{"g":"High","t":58.5,"s":0.565},{"g":"High","t":61.5,"s":0.55},{"g":"High","t":64.5,"s":0.538},{"g":"High","t":67.5,"s":0.527},{"g":"High","t":70.5,"s":0.518},{"g":"High","t":73.5,"s":0.505},
  {"g":"High","t":76.5,"s":0.49},{"g":"High","t":79.5,"s":0.475},{"g":"High","t":82.5,"s":0.461},{"g":"High","t":85.5,"s":0.448},{"g":"High","t":88.5,"s":0.436},{"g":"High","t":91.5,"s":0.425},{"g":"High","t":94.5,"s":0.416},{"g":"High","t":97.5,"s":0.407},{"g":"High","t":100.5,"s":0.398},{"g":"High","t":103.5,"s":0.388},
  {"g":"High","t":106.5,"s":0.378},{"g":"High","t":109.5,"s":0.368},{"g":"High","t":112.5,"s":0.358},{"g":"High","t":115.5,"s":0.348},{"g":"High","t":118.5,"s":0.34},{"g":"High","t":121.5,"s":0.333},{"g":"High","t":124.5,"s":0.318},{"g":"High","t":127.5,"s":0.3},{"g":"High","t":130.5,"s":0.29},{"g":"High","t":133.5,"s":0.282},
  {"g":"High","t":136.5,"s":0.276},{"g":"High","t":140,"s":0.27},{"g":"High","t":144,"s":0.263},{"g":"High","t":148,"s":0.258},
  {"g":"High","t":150.3,"s":0.253},{"g":"High","t":154.9,"s":0.253},{"g":"High","t":158.9,"s":0.253},{"g":"High","t":162.6,"s":0.253},{"g":"High","t":167.3,"s":0.253},{"g":"High","t":170.4,"s":0.253},{"g":"High","t":175,"s":0.253},
  {"g":"High","t":181,"s":0.208},{"g":"High","t":184,"s":0.208},{"g":"High","t":188.5,"s":0.208},{"g":"High","t":196,"s":0.208},{"g":"High","t":199,"s":0.208},{"g":"High","t":217.5,"s":0.208},{"g":"High","t":238,"s":0.098}
 ],
 "kmt": [{"t":242,"s":1.0,"txt":"HR = 1.22 (1.03-1.43)"},{"t":242,"s":0.945,"txt":"logrank p = 0.02"}],
 "risk": [
  {"g":"Low","t":0,"n":572},{"g":"Low","t":50,"n":290},{"g":"Low","t":100,"n":64},{"g":"Low","t":150,"n":19},{"g":"Low","t":200,"n":2},
  {"g":"High","t":0,"n":573},{"g":"High","t":50,"n":256},{"g":"High","t":100,"n":75},{"g":"High","t":150,"n":27},{"g":"High","t":200,"n":4}
 ]
},
"hconcat": [
 {
  "title": {"text": "A", "anchor": "start", "fontSize": 21, "fontWeight": "bold", "offset": -21.2, "dx": -18},
  "spacing": -1,
  "resolve": {"scale": {"color": "independent", "shape": "independent"}, "legend": {"color": "independent", "shape": "independent"}},
  "vconcat": [
   {"hconcat": [
     {"width": 124.5, "height": 92, "title": {"text": "Garber Lung", "frame": "group", "offset": -4.8},
      "layer": [
       {"data": {"name": "g"}, "mark": {"type": "point", "filled": true, "opacity": 1, "color": "#000", "size": 15, "strokeWidth": 0},
        "encoding": {
         "x": {"field": "c", "type": "nominal", "scale": {"domain": ["N","S","A"], "paddingInner": 0, "paddingOuter": 0},
               "axis": {"title": null, "labelAngle": -35, "labelAlign": "right", "labelBaseline": "top", "labelPadding": 1, "labelFontSize": 7, "labelLineHeight": 8.5, "labelExpr": "datum.value=='N'?'Normal Lung':datum.value=='S'?['Squamous Cell','Lung Carcinoma']:['Lung','Adenocarcinoma']"}},
         "xOffset": {"field": "k", "type": "quantitative", "scale": {"domain": [-10,10], "range": [0.75,40.75]}},
         "y": {"field": "v", "type": "quantitative", "scale": {"domain": [-2,2], "range": [92,7], "nice": false, "zero": false},
               "axis": {"title": "Log2 median-centered intensity", "values": [-2,-1,0,1,2], "tickCount": 5, "labelOverlap": false, "labelExpr": "datum.value<0?'-'+format(-datum.value,'d'):format(datum.value,'d')"}},
         "shape": {"field": "c", "type": "nominal", "scale": {"domain": ["N","S","A"], "range": ["circle","square","triangle-up"]}, "legend": null}}},
       {"data": {"name": "gs"}, "mark": {"type": "rule", "color": "#000", "strokeWidth": 1},
        "encoding": {"x": {"field": "c", "type": "nominal"}, "y": {"field": "lo", "type": "quantitative"}, "y2": {"field": "hi"}}},
       {"data": {"name": "gs"}, "mark": {"type": "tick", "color": "#000", "size": 29, "thickness": 1},
        "encoding": {"x": {"field": "c", "type": "nominal"}, "y": {"field": "mean", "type": "quantitative"}}},
       {"data": {"name": "gs"}, "mark": {"type": "tick", "color": "#000", "size": 10, "thickness": 1},
        "encoding": {"x": {"field": "c", "type": "nominal"}, "y": {"field": "lo", "type": "quantitative"}}},
       {"data": {"name": "gs"}, "mark": {"type": "tick", "color": "#000", "size": 10, "thickness": 1},
        "encoding": {"x": {"field": "c", "type": "nominal"}, "y": {"field": "hi", "type": "quantitative"}}},
       {"data": {"name": "gt"}, "mark": {"type": "text"},
        "encoding": {"x": {"field": "c", "type": "nominal"}, "xOffset": {"field": "k", "type": "quantitative"}, "y": {"field": "y", "type": "quantitative"}, "text": {"field": "t"}}}
      ]},
     {"width": 125, "height": 93, "title": {"text": "Hou Lung", "frame": "group", "offset": -4.8, "dx": -14},
      "layer": [
       {"data": {"name": "h"}, "mark": {"type": "point", "filled": true, "opacity": 1, "color": "#000", "size": 13, "strokeWidth": 0},
        "encoding": {
         "x": {"field": "c", "type": "nominal", "scale": {"domain": ["N","L","A","S"], "paddingInner": 0, "paddingOuter": 0.25, "align": 0.85},
               "axis": {"title": null, "labelAngle": -35, "labelAlign": "right", "labelBaseline": "top", "labelPadding": 1, "labelFontSize": 7, "labelLineHeight": 8.5, "labelExpr": "datum.value=='N'?'Normal Lung':datum.value=='L'?['Large Cell Lung','Carcinoma']:datum.value=='A'?['Lung','Adenocarcinoma']:['Squamous Cell','Lung Carcinoma']"}},
         "xOffset": {"field": "k", "type": "quantitative", "scale": {"domain": [-10,10], "range": [-6.11,33.89]}},
         "y": {"field": "v", "type": "quantitative", "scale": {"domain": [-1.5,1.5], "range": [93,9], "nice": false, "zero": false},
               "axis": {"title": "Log2 median-centered intensity", "values": [-1.5,-1,-0.5,0,0.5,1,1.5], "tickCount": 7, "labelOverlap": false, "labelExpr": "datum.value<0?'-'+format(-datum.value,'.1f'):format(datum.value,'.1f')"}},
         "shape": {"field": "c", "type": "nominal", "scale": {"domain": ["N","L","A","S"], "range": ["circle","square","triangle-up","triangle-down"]}, "legend": null}}},
       {"data": {"name": "hs"}, "mark": {"type": "rule", "color": "#000", "strokeWidth": 1},
        "encoding": {"x": {"field": "c", "type": "nominal"}, "y": {"field": "lo", "type": "quantitative"}, "y2": {"field": "hi"}}},
       {"data": {"name": "hs"}, "mark": {"type": "tick", "color": "#000", "size": 20, "thickness": 1},
        "encoding": {"x": {"field": "c", "type": "nominal"}, "y": {"field": "mean", "type": "quantitative"}}},
       {"data": {"name": "hs"}, "mark": {"type": "tick", "color": "#000", "size": 8, "thickness": 1},
        "encoding": {"x": {"field": "c", "type": "nominal"}, "y": {"field": "lo", "type": "quantitative"}}},
       {"data": {"name": "hs"}, "mark": {"type": "tick", "color": "#000", "size": 8, "thickness": 1},
        "encoding": {"x": {"field": "c", "type": "nominal"}, "y": {"field": "hi", "type": "quantitative"}}},
       {"data": {"name": "ht"}, "mark": {"type": "text"},
        "encoding": {"x": {"field": "c", "type": "nominal"}, "xOffset": {"field": "k", "type": "quantitative"}, "y": {"field": "y", "type": "quantitative"}, "text": {"field": "t"}}}
      ]}
    ], "spacing": 73.5, "bounds": "flush",
    "resolve": {"scale": {"color": "independent", "shape": "independent"}, "legend": {"color": "independent", "shape": "independent"}}},
   {"hconcat": [
     {"width": 134, "height": 91, "title": {"text": "Okayama Lung", "frame": "group", "offset": -0.8, "dx": -7},
      "layer": [
       {"data": {"name": "o"}, "mark": {"type": "point", "filled": true, "opacity": 1, "color": "#000", "size": 11, "strokeWidth": 0},
        "encoding": {
         "x": {"field": "c", "type": "nominal", "scale": {"domain": ["N","A"], "paddingInner": 0, "paddingOuter": 0},
               "axis": {"title": null, "labelAngle": -35, "labelAlign": "right", "labelBaseline": "top", "labelPadding": 1, "labelFontSize": 7, "labelLineHeight": 8.5, "labelExpr": "datum.value=='N'?'Normal Lung':['Lung','Adenocarcinoma']"}},
         "xOffset": {"field": "k", "type": "quantitative", "scale": {"domain": [-10,10], "range": [15,52]}},
         "y": {"field": "v", "type": "quantitative", "scale": {"domain": [0,4], "nice": false, "zero": false},
               "axis": {"title": "Log2 median-centered intensity", "values": [0,1,2,3,4], "tickCount": 5, "labelOverlap": false, "labelExpr": "format(datum.value,'d')"}},
         "shape": {"field": "c", "type": "nominal", "scale": {"domain": ["N","A"], "range": ["circle","square"]}, "legend": null}}},
       {"data": {"name": "os"}, "mark": {"type": "rule", "color": "#000", "strokeWidth": 1},
        "encoding": {"x": {"field": "c", "type": "nominal"}, "y": {"field": "lo", "type": "quantitative"}, "y2": {"field": "hi"}}},
       {"data": {"name": "os"}, "mark": {"type": "tick", "color": "#000", "size": 36, "thickness": 1},
        "encoding": {"x": {"field": "c", "type": "nominal"}, "y": {"field": "mean", "type": "quantitative"}}},
       {"data": {"name": "os"}, "mark": {"type": "tick", "color": "#000", "size": 14, "thickness": 1},
        "encoding": {"x": {"field": "c", "type": "nominal"}, "y": {"field": "lo", "type": "quantitative"}}},
       {"data": {"name": "os"}, "mark": {"type": "tick", "color": "#000", "size": 14, "thickness": 1},
        "encoding": {"x": {"field": "c", "type": "nominal"}, "y": {"field": "hi", "type": "quantitative"}}},
       {"data": {"name": "ot"}, "mark": {"type": "text"},
        "encoding": {"x": {"field": "c", "type": "nominal"}, "xOffset": {"field": "k", "type": "quantitative"}, "y": {"field": "y", "type": "quantitative"}, "text": {"field": "t"}}}
      ]},
     {"width": 142, "height": 95, "title": {"text": "Selamat Lung", "frame": "group", "offset": 1.2},
      "layer": [
       {"data": {"name": "s"}, "mark": {"type": "point", "filled": true, "opacity": 1, "color": "#000", "size": 14, "strokeWidth": 0},
        "encoding": {
         "x": {"field": "c", "type": "nominal", "scale": {"domain": ["N","A"], "paddingInner": 0, "paddingOuter": 0},
               "axis": {"title": null, "labelAngle": -35, "labelAlign": "right", "labelBaseline": "top", "labelPadding": 1, "labelFontSize": 7, "labelLineHeight": 8.5, "labelExpr": "datum.value=='N'?'Normal Lung':['Lung','Adenocarcinoma']"}},
         "xOffset": {"field": "k", "type": "quantitative", "scale": {"domain": [-10,10], "range": [15.5,55.5]}},
         "y": {"field": "v", "type": "quantitative", "scale": {"domain": [0,3], "nice": false, "zero": false},
               "axis": {"title": "Log2 median-centered intensity", "values": [0,1,2,3], "tickCount": 4, "labelOverlap": false, "labelExpr": "format(datum.value,'d')"}},
         "shape": {"field": "c", "type": "nominal", "scale": {"domain": ["N","A"], "range": ["circle","square"]}, "legend": null}}},
       {"data": {"name": "ss"}, "mark": {"type": "rule", "color": "#000", "strokeWidth": 1},
        "encoding": {"x": {"field": "c", "type": "nominal"}, "y": {"field": "lo", "type": "quantitative"}, "y2": {"field": "hi"}}},
       {"data": {"name": "ss"}, "mark": {"type": "tick", "color": "#000", "size": 40, "thickness": 1},
        "encoding": {"x": {"field": "c", "type": "nominal"}, "y": {"field": "mean", "type": "quantitative"}}},
       {"data": {"name": "ss"}, "mark": {"type": "tick", "color": "#000", "size": 14, "thickness": 1},
        "encoding": {"x": {"field": "c", "type": "nominal"}, "y": {"field": "lo", "type": "quantitative"}}},
       {"data": {"name": "ss"}, "mark": {"type": "tick", "color": "#000", "size": 14, "thickness": 1},
        "encoding": {"x": {"field": "c", "type": "nominal"}, "y": {"field": "hi", "type": "quantitative"}}},
       {"data": {"name": "st"}, "mark": {"type": "text"},
        "encoding": {"x": {"field": "c", "type": "nominal"}, "xOffset": {"field": "k", "type": "quantitative"}, "y": {"field": "y", "type": "quantitative"}, "text": {"field": "t"}}}
      ]}
    ], "spacing": 54, "bounds": "flush",
    "resolve": {"scale": {"color": "independent", "shape": "independent"}, "legend": {"color": "independent", "shape": "independent"}}}
  ]
 },
 {
  "title": {"text": "B", "anchor": "start", "fontSize": 21, "fontWeight": "bold", "offset": -18.5, "dx": -7},
  "spacing": 5,
  "resolve": {"scale": {"color": "independent", "shape": "independent"}, "legend": {"color": "independent", "shape": "independent"}},
  "vconcat": [
   {"width": 266, "height": 220, "view": {"stroke": "#888", "strokeWidth": 1},
    "layer": [
     {"data": {"name": "kml"}, "mark": {"type": "line", "interpolate": "step-after", "strokeWidth": 1},
      "encoding": {
       "x": {"field": "t", "type": "quantitative", "scale": {"domain": [-1,246], "nice": false, "zero": false},
             "axis": {"title": "Time (months)", "titleFontSize": 7.5, "values": [0,50,100,150,200], "tickCount": 5, "labelAngle": 0, "labelAlign": "center", "labelBaseline": "top", "domain": false, "tickSize": 4, "labelPadding": 2, "titlePadding": 3, "format": "d"}},
       "y": {"field": "s", "type": "quantitative", "scale": {"domain": [-0.055,1.045], "nice": false, "zero": false},
             "axis": {"title": "Probability", "titleFontSize": 8.5, "values": [0,0.2,0.4,0.6,0.8,1], "tickCount": 6, "format": ".1f", "labelAngle": 270, "labelAlign": "center", "labelBaseline": "bottom", "domain": false, "tickSize": 3, "labelPadding": 2, "titlePadding": 4, "labelOverlap": false}},
       "color": {"field": "g", "type": "nominal", "scale": {"domain": ["Low","High"], "range": ["#000000","#ee0000"]},
                 "legend": {"title": "Expression", "orient": "bottom-left", "offset": 3, "symbolType": "stroke", "symbolStrokeWidth": 1.5, "symbolSize": 100, "symbolOpacity": 0.5, "labelFontSize": 7.5, "labelFontWeight": "bold", "labelFont": "Liberation Sans", "titleFont": "Liberation Sans", "titleFontSize": 7.5, "titleFontWeight": "bold", "titlePadding": 3, "rowPadding": 1, "padding": 0, "labelColor": "#000", "titleColor": "#000"}}}},
     {"data": {"name": "kmc"}, "mark": {"type": "point", "shape": "M-1,0L1,0M0,-1L0,1", "size": 22, "strokeWidth": 0.8, "filled": false, "opacity": 1},
      "encoding": {"x": {"field": "t", "type": "quantitative"}, "y": {"field": "s", "type": "quantitative"}, "color": {"field": "g", "type": "nominal"}}},
     {"data": {"name": "kmt"}, "mark": {"type": "text", "align": "right", "fontSize": 7.5, "fontWeight": "bold"},
      "encoding": {"x": {"field": "t", "type": "quantitative"}, "y": {"field": "s", "type": "quantitative"}, "text": {"field": "txt"}}}
    ]},
   {"width": 266, "height": 30,
    "title": {"text": "Number at risk", "anchor": "start", "fontSize": 7.5, "fontWeight": "bold", "offset": 3},
    "data": {"name": "risk"},
    "layer": [
     {"transform": [{"filter": "datum.n !== 572"}],
      "mark": {"type": "text", "fontSize": 7.5, "fontWeight": "bold"},
      "encoding": {
       "x": {"field": "t", "type": "quantitative", "scale": {"domain": [-1,246], "nice": false, "zero": false}, "axis": null},
       "y": {"field": "g", "type": "nominal", "scale": {"domain": ["Low","High"]},
             "axis": {"title": null, "domain": false, "ticks": false, "labelAlign": "left", "labelPadding": 24, "labelFontSize": 7.5, "labelFontWeight": "bold", "labelColor": {"condition": {"test": "datum.value==='High'", "value": "#ee0000"}, "value": "#000"}}},
       "text": {"field": "n"},
       "color": {"field": "g", "type": "nominal", "scale": {"domain": ["Low","High"], "range": ["#000000","#ee0000"]}, "legend": null}}},
     {"transform": [{"filter": "datum.n === 572"}],
      "mark": {"type": "text", "fontSize": 7, "font": "Liberation Serif", "fontWeight": "normal", "color": "#000"},
      "encoding": {"x": {"field": "t", "type": "quantitative"}, "y": {"field": "g", "type": "nominal"}, "text": {"field": "n"}}}
    ]}
  ]
 }
]
}
